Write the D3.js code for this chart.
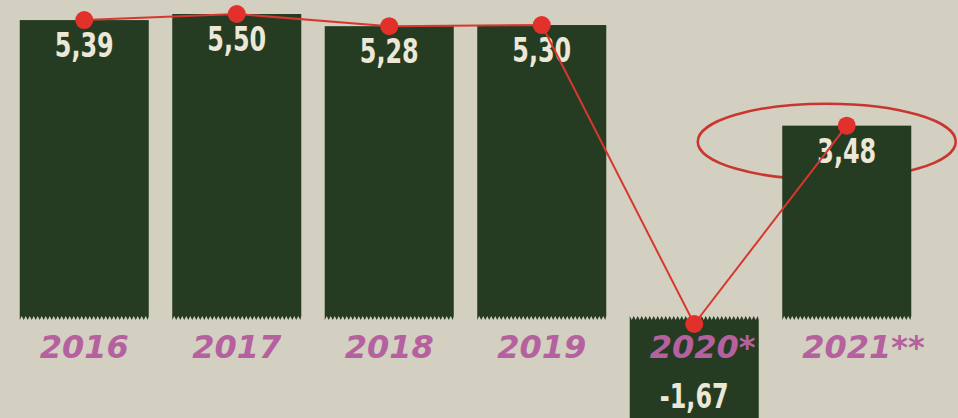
<!DOCTYPE html>
<html>
<head>
<meta charset="utf-8">
<script src="https://cdnjs.cloudflare.com/ajax/libs/d3/7.8.5/d3.min.js"></script>
<style>
  html, body { margin: 0; padding: 0; background: #d3cfc1; overflow: hidden; }
  svg { display: block; }
  .val { font-family: "DejaVu Sans Condensed", "DejaVu Sans", sans-serif; font-stretch: condensed; font-weight: bold; fill: #ece8d8; }
  .year { font-family: "DejaVu Sans", sans-serif; font-weight: bold; font-style: italic; fill: #b5619f; }
</style>
</head>
<body>
<svg id="chart"></svg>
<script>
// data
var years = ["2016", "2017", "2018", "2019", "2020", "2021"];
var marks = ["", "", "", "", "*", "**"];
var values = [5.39, 5.50, 5.28, 5.30, -1.67, 3.48];
var valueLabels = ["5,39", "5,50", "5,28", "5,30", "-1,67", "3,48"];

var w = 958, h = 418;
var barColor = "#263c22";
var red = "#d8372e";

var svg = d3.select("#chart").attr("width", w).attr("height", h);

var x = d3.scaleBand()
    .domain(years)
    .range([8, 923])
    .paddingInner(0.154)
    .paddingOuter(0.077);

var y = d3.scaleLinear()
    .domain([0, 5.5])
    .range([318, 14]);

var bw = x.bandwidth();
var cx = function(i) { return x(years[i]) + bw / 2; };

// circle round the 2021 forecast (sits behind the bar)
var last = years.length - 1;
svg.append("ellipse")
    .attr("cx", cx(last) - 20)
    .attr("cy", y(values[last]) + 16)
    .attr("rx", 129)
    .attr("ry", 38)
    .attr("fill", "none")
    .attr("stroke", "#c9362f")
    .attr("stroke-width", 2.5);

// bars
var bars = svg.selectAll(".bar")
    .data(values)
    .enter().append("g")
    .attr("class", "bar");

bars.append("rect")
    .attr("x", function(d, i) { return x(years[i]); })
    .attr("y", function(d) { return d >= 0 ? y(d) : y(0) + 2; })
    .attr("width", bw)
    .attr("height", function(d) { return d >= 0 ? y(0) - y(d) - 2 : y(d) - y(0) + 10; })
    .attr("fill", barColor);

// torn edge along the zero line
bars.append("path")
    .attr("fill", barColor)
    .attr("d", function(d, i) {
        var x0 = x(years[i]), x1 = x0 + bw;
        var y0 = y(0);
        var p = d3.path();
        var base = d >= 0 ? y0 - 2 : y0 + 2;
        var tip = d >= 0 ? y0 + 2 : y0 - 2;
        p.moveTo(x0, base);
        for (var xx = x0; xx < x1; xx += 4) {
            p.lineTo(xx, tip);
            p.lineTo(Math.min(xx + 2, x1), base);
        }
        p.lineTo(x1, base);
        p.closePath();
        return p.toString();
    });

// value labels, squeezed to look like the narrow poster face
bars.append("text")
    .attr("class", "val")
    .attr("text-anchor", "middle")
    .attr("font-size", 34)
    .attr("transform", function(d, i) {
        var ty = d >= 0 ? y(d) + 37 : y(d) - 2;
        return "translate(" + cx(i) + "," + ty + ") scale(0.78,1)";
    })
    .text(function(d, i) { return valueLabels[i]; });

// line through the bar tops
var pts = values.map(function(d, i) { return [cx(i), y(Math.max(0, d)) + (d < 0 ? 6 : 0)]; });

svg.append("path")
    .datum(pts)
    .attr("fill", "none")
    .attr("stroke", red)
    .attr("stroke-width", 2)
    .attr("d", d3.line());

svg.selectAll(".dot")
    .data(pts)
    .enter().append("circle")
    .attr("class", "dot")
    .attr("cx", function(d) { return d[0]; })
    .attr("cy", function(d) { return d[1]; })
    .attr("r", 9)
    .attr("fill", "#e2302a");

// year labels, asterisks hang to the right
var yl = svg.selectAll(".year")
    .data(years)
    .enter().append("text")
    .attr("class", "year")
    .attr("font-size", 32)
    .attr("text-anchor", "middle")
    .attr("x", function(d, i) { return cx(i); })
    .attr("y", 358)
    .text(function(d) { return d; });

yl.each(function(d, i) {
    if (!marks[i]) return;
    var len = this.getComputedTextLength();
    svg.append("text")
        .attr("class", "year")
        .attr("font-size", 32)
        .attr("x", cx(i) + len / 2)
        .attr("y", 358)
        .text(marks[i]);
});
</script>
</body>
</html>
